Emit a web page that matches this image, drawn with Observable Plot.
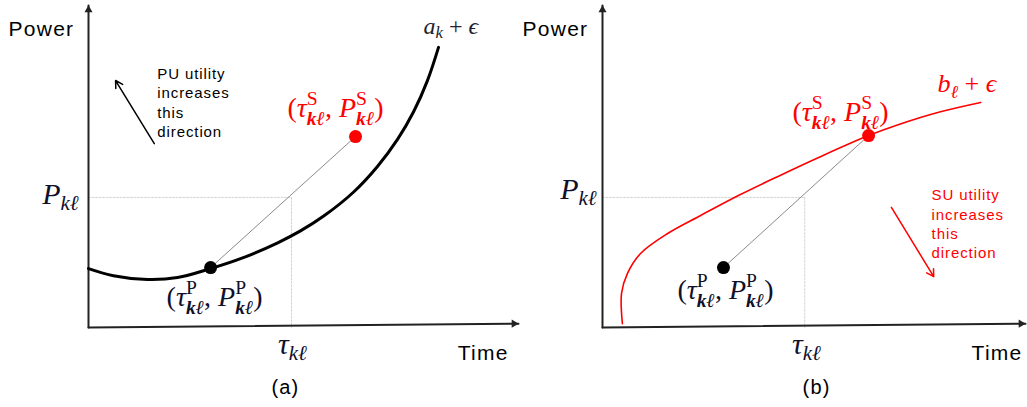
<!DOCTYPE html>
<html><head><meta charset="utf-8">
<script src="https://cdn.jsdelivr.net/npm/d3@7"></script>
<script src="https://cdn.jsdelivr.net/npm/@observablehq/plot@0.6"></script>
<style>
body{margin:0;background:#fff;}
#wrap{display:flex;width:1027px;height:407px;overflow:hidden;}
#wrap svg{overflow:visible;display:block;}
g[font-family*="Liberation Sans"] text{letter-spacing:0.06em;}
</style></head><body><div id="wrap"></div>
<script>
// ---------- data (abstract units: time 0..10, power 0..10) ----------
const axisTime = [0, 10];
const axisPower = [0, 10];
const axisTilt = 0.12;            // x-axis drawn slightly rising toward its arrow

// Panel (a): PU curve  a_k + ϵ
const timeA  = [0, 0.58, 1.37, 2.07, 2.84, 3.60, 4.40, 4.93, 5.47, 6.16, 6.72, 7.19, 7.56, 7.88, 8.14];
const powerA = [1.83, 1.61, 1.49, 1.55, 1.83, 2.17, 2.63, 3.00, 3.46, 4.20, 5.00, 5.85, 6.70, 7.66, 8.70];
const ptPA = {t: 2.84, p: 1.86};   // (τP, PP)
const ptSA = {t: 6.21, p: 5.93};   // (τS, PS)
const guideA = {tau: 4.72, P: 4.04};

// Panel (b): SU curve  b_ℓ + ϵ
const timeB  = [0.47, 0.45, 0.59, 0.90, 1.54, 2.32, 3.26, 4.21, 5.11, 6.29, 7.04, 7.99, 8.94];
const powerB = [0.12, 1.06, 1.68, 2.30, 2.92, 3.48, 4.13, 4.73, 5.28, 5.96, 6.32, 6.70, 6.99];
const ptPB = {t: 2.86, p: 1.86};
const ptSB = {t: 6.29, p: 5.96};
const guideB = {tau: 4.78, P: 4.04};

// texts
const yLabel = "Power";
const xLabel = "Time";
const panelNames = ["(a)", "(b)"];
const curveNames = ["a_{k} + ϵ", "b_{ℓ} + ϵ"];
const tickP = "P_{kℓ}";
const tickTau = "τ_{kℓ}";
const labelP = "(τ_{kℓ}^{P}, P_{kℓ}^{P})";
const labelS = "(τ_{kℓ}^{S}, P_{kℓ}^{S})";
const noteA = "PU utility\nincreases\nthis\ndirection";
const noteB = "SU utility\nincreases\nthis\ndirection";
const arrowA = {t1: 1.53, p1: 5.71, t2: 0.63, p2: 7.67};
const arrowB = {t1: 6.83, p1: 3.73, t2: 7.83, p2: 1.58};

// ---------- helpers ----------
const SANS = "Liberation Sans, Arial, sans-serif";
const SERIF = "Liberation Serif, DejaVu Serif, serif";
const INK = "#10102a";
const RED = "#ff0000";
const AX = "#222";

function axesMarks() {
  return [
    Plot.line([[axisTime[0], axisPower[0]], [axisTime[0], axisPower[1]]], {stroke: AX, strokeWidth: 2}),
    Plot.line([[axisTime[0], axisPower[0]], [axisTime[1], axisPower[0] + axisTilt]], {stroke: AX, strokeWidth: 2}),
    Plot.dot([[axisTime[0], axisPower[1]]], {symbol: "triangle", r: 3, fill: AX, stroke: null, dy: 4.5}),
    Plot.dot([[axisTime[1], axisPower[0] + axisTilt]], {symbol: "triangle", r: 3, fill: AX, stroke: null, rotate: 90, dx: -4.5})
  ];
}
function guideMarks(g) {
  return [
    Plot.line([[0, g.P], [g.tau, g.P]], {stroke: "#d4d4d4", strokeWidth: 1, strokeDasharray: "2,1.5"}),
    Plot.line([[g.tau, g.P], [g.tau, 0]], {stroke: "#d4d4d4", strokeWidth: 1, strokeDasharray: "2,1.5"})
  ];
}

function panel(width, marginLeft, marks) {
  return Plot.plot({
    width, height: 407, marginLeft, marginRight: 2, marginTop: 5, marginBottom: 80,
    x: {domain: axisTime, axis: null},
    y: {domain: axisPower, axis: null},
    style: {background: "transparent", overflow: "visible"},
    marks
  });
}

const txt = (s, x, y, o) => Plot.text([s], {x: () => x, y: () => y, text: d => d, lineAnchor: "bottom", ...o});

// ---------- panel (a) ----------
const curveAData = timeA.map((t, i) => ({t, p: powerA[i]}));
const figA = panel(520, 88, [
  ...guideMarks(guideA),
  ...axesMarks(),
  Plot.line(curveAData, {x: "t", y: "p", curve: "catmull-rom", stroke: "#000", strokeWidth: 3}),
  Plot.line([ptPA, ptSA], {x: "t", y: "p", stroke: "#8a8a8a", strokeWidth: 1}),
  Plot.dot([ptPA], {x: "t", y: "p", r: 6.5, fill: "#000"}),
  Plot.dot([ptSA], {x: "t", y: "p", r: 6.5, fill: RED}),
  Plot.arrow([arrowA], {x1: "t1", y1: "p1", x2: "t2", y2: "p2", stroke: "#000", strokeWidth: 1.5, headLength: 8}),
  txt(yLabel, -1.86, 9.04, {textAnchor: "start", fontFamily: SANS, fontSize: 21, fill: "#000"}),
  txt(xLabel, 9.77, -1.02, {textAnchor: "end", fontFamily: SANS, fontSize: 21, fill: "#000"}),
  txt(panelNames[0], 4.58, -2.05, {textAnchor: "middle", fontFamily: SANS, fontSize: 20, fill: "#000"}),
  txt(noteA, 1.60, 5.93, {textAnchor: "start", fontFamily: SANS, fontSize: 15, lineHeight: 1.27, fill: "#000"}),
  txt(curveNames[0], 7.79, 9.13, {textAnchor: "start", fontFamily: SERIF, fontSize: 24, fill: "#22222e"}),
  txt(tickP, -0.23, 3.85, {textAnchor: "end", fontFamily: SERIF, fontSize: 30, fill: INK}),
  txt(tickTau, 4.74, -0.81, {textAnchor: "middle", fontFamily: SERIF, fontSize: 30, fill: INK}),
  Plot.text([ptPA], {x: "t", y: "p", text: () => labelP, dx: 4, dy: 38, lineAnchor: "bottom", fontFamily: SERIF, fontSize: 28, fill: INK}),
  Plot.text([ptSA], {x: "t", y: "p", text: () => labelS, dx: -20, dy: -20, lineAnchor: "bottom", fontFamily: SERIF, fontSize: 28, fill: RED})
]);

// ---------- panel (b) ----------
const curveBData = timeB.map((t, i) => ({t, p: powerB[i]}));
const figB = panel(507, 82, [
  ...guideMarks(guideB),
  ...axesMarks(),
  Plot.line(curveBData, {x: "t", y: "p", curve: "catmull-rom", stroke: RED, strokeWidth: 1.6}),
  Plot.line([ptPB, ptSB], {x: "t", y: "p", stroke: "#8a8a8a", strokeWidth: 1}),
  Plot.dot([ptPB], {x: "t", y: "p", r: 6.5, fill: "#000"}),
  Plot.dot([ptSB], {x: "t", y: "p", r: 6.5, fill: RED}),
  Plot.arrow([arrowB], {x1: "t1", y1: "p1", x2: "t2", y2: "p2", stroke: RED, strokeWidth: 1.5, headLength: 8}),
  txt(yLabel, -1.89, 9.04, {textAnchor: "start", fontFamily: SANS, fontSize: 21, fill: "#000"}),
  txt(xLabel, 9.93, -1.02, {textAnchor: "end", fontFamily: SANS, fontSize: 21, fill: "#000"}),
  txt(panelNames[1], 5.06, -2.05, {textAnchor: "middle", fontFamily: SANS, fontSize: 20, fill: "#000"}),
  txt(noteB, 7.78, 2.17, {textAnchor: "start", fontFamily: SANS, fontSize: 15, lineHeight: 1.27, fill: RED}),
  txt(curveNames[1], 7.92, 7.30, {textAnchor: "start", fontFamily: SERIF, fontSize: 26, fill: RED}),
  txt(tickP, -0.14, 3.98, {textAnchor: "end", fontFamily: SERIF, fontSize: 30, fill: INK}),
  txt(tickTau, 4.82, -0.81, {textAnchor: "middle", fontFamily: SERIF, fontSize: 30, fill: INK}),
  Plot.text([ptPB], {x: "t", y: "p", text: () => labelP, dx: 2, dy: 31, lineAnchor: "bottom", fontFamily: SERIF, fontSize: 28, fill: INK}),
  Plot.text([ptSB], {x: "t", y: "p", text: () => labelS, dx: -28, dy: -15, lineAnchor: "bottom", fontFamily: SERIF, fontSize: 28, fill: RED})
]);

const wrap = document.getElementById("wrap");
wrap.appendChild(figA);
wrap.appendChild(figB);

// ---------- turn _{..} / ^{..} markup into sub/superscript tspans ----------
const NS = "http://www.w3.org/2000/svg";
function mathify(root) {
  root.querySelectorAll("text").forEach(t => {
    const s = t.textContent;
    if (!/[_^]\{/.test(s)) return;
    let F = parseFloat(getComputedStyle(t).fontSize) || 24;
    const bold = s.includes("^{") && s.includes("_{");
    const tokens = []; const re = /([_^])\{([^}]*)\}/g; let last = 0, m;
    while ((m = re.exec(s))) {
      if (m.index > last) tokens.push({type: "text", v: s.slice(last, m.index)});
      tokens.push({type: m[1], v: m[2]}); last = re.lastIndex;
    }
    if (last < s.length) tokens.push({type: "text", v: s.slice(last)});
    while (t.firstChild) t.removeChild(t.firstChild);
    let shift = 0, pendingDx = 0;
    const add = (v) => { const ts = document.createElementNS(NS, "tspan"); ts.textContent = v; t.appendChild(ts); return ts; };
    for (let i = 0; i < tokens.length; i++) {
      const tk = tokens[i];
      if (tk.type === "text") {
        const runs = tk.v.match(/(\p{L}+|[^\p{L}]+)/gu) || [];
        runs.forEach((r, j) => {
          const ts = add(r);
          ts.setAttribute("font-style", /\p{L}/u.test(r) ? "italic" : "normal");
          if (j === 0) {
            if (shift) ts.setAttribute("dy", -shift);
            if (pendingDx) ts.setAttribute("dx", pendingDx);
            shift = 0; pendingDx = 0;
          }
        });
      } else {
        let sup = null, sub = null;
        if (tk.type === "^") sup = tk.v; else sub = tk.v;
        const nx = tokens[i + 1];
        if (nx && nx.type !== "text" && nx.type !== tk.type) { if (nx.type === "^") sup = nx.v; else sub = nx.v; i++; }
        let wSup = 0;
        if (sup !== null) {
          const ts = add(sup);
          ts.setAttribute("font-size", 0.7 * F); ts.setAttribute("font-style", "normal");
          const target = -0.42 * F; ts.setAttribute("dy", target - shift); shift = target;
          wSup = ts.getComputedTextLength();
        }
        if (sub !== null) {
          const ts = add(sub);
          ts.setAttribute("font-size", 0.7 * F); ts.setAttribute("font-style", "italic");
          if (bold) ts.setAttribute("font-weight", "bold");
          const target = (sup !== null ? 0.3 : 0.2) * F;
          ts.setAttribute("dy", target - shift); shift = target;
          if (wSup) ts.setAttribute("dx", -wSup);
          const wSub = ts.getComputedTextLength();
          if (wSup > wSub) pendingDx = wSup - wSub;
        }
      }
    }
  });
}
mathify(figA); mathify(figB);
</script></body></html>
